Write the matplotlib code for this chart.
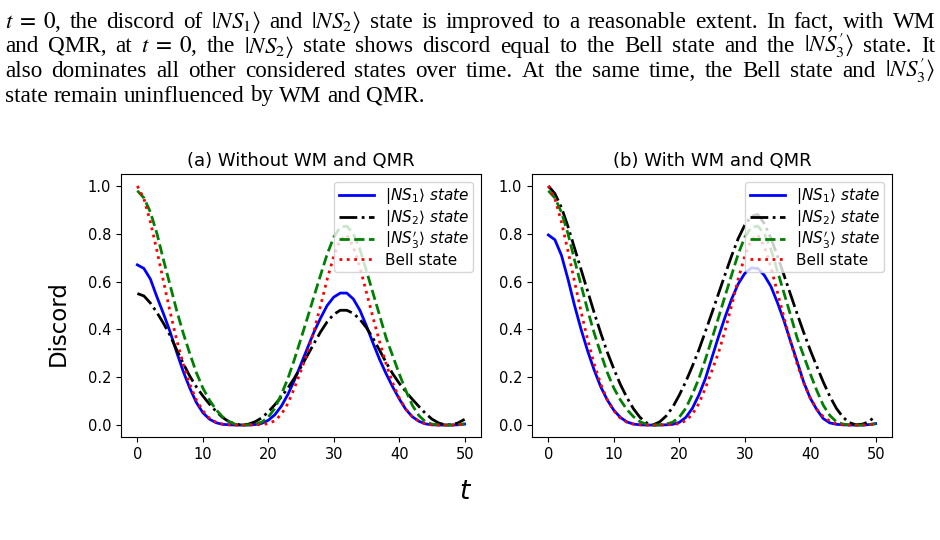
import re
import matplotlib
matplotlib.use("Agg")
import matplotlib.pyplot as plt

# ---------------- data ----------------
t = list(range(0, 51))

bell = [1.000, 0.947, 0.849, 0.728, 0.600, 0.474, 0.357, 0.255, 0.171, 0.106,
        0.060, 0.029, 0.012, 0.004, 0.001, 0.000, 0.000, 0.000, 0.001, 0.002,
        0.006, 0.018, 0.045, 0.090, 0.155, 0.228, 0.303, 0.395, 0.500, 0.610,
        0.705, 0.775, 0.795, 0.745, 0.660, 0.555, 0.450, 0.349, 0.256, 0.177,
        0.114, 0.067, 0.035, 0.016, 0.005, 0.001, 0.000, 0.000, 0.000, 0.001,
        0.004]

ns3p = [0.980, 0.950, 0.890, 0.800, 0.690, 0.585, 0.480, 0.385, 0.300, 0.220,
        0.155, 0.105, 0.065, 0.035, 0.014, 0.003, 0.000, 0.001, 0.004, 0.012,
        0.033, 0.070, 0.128, 0.195, 0.275, 0.362, 0.450, 0.540, 0.628, 0.715,
        0.785, 0.828, 0.832, 0.800, 0.735, 0.645, 0.552, 0.460, 0.365, 0.290,
        0.215, 0.145, 0.083, 0.040, 0.014, 0.004, 0.001, 0.000, 0.000, 0.002,
        0.005]

ns1_a = [0.670, 0.655, 0.610, 0.535, 0.465, 0.390, 0.305, 0.225, 0.155, 0.095,
         0.052, 0.025, 0.010, 0.003, 0.001, 0.000, 0.000, 0.000, 0.002, 0.007,
         0.020, 0.043, 0.079, 0.128, 0.188, 0.255, 0.323, 0.390, 0.448, 0.500,
         0.535, 0.552, 0.552, 0.527, 0.480, 0.415, 0.343, 0.275, 0.215, 0.160,
         0.110, 0.066, 0.035, 0.016, 0.005, 0.001, 0.000, 0.000, 0.000, 0.001,
         0.004]

ns2_a = [0.550, 0.540, 0.510, 0.470, 0.425, 0.375, 0.315, 0.258, 0.205, 0.160,
         0.122, 0.088, 0.058, 0.032, 0.014, 0.004, 0.000, 0.004, 0.014, 0.030,
         0.055, 0.085, 0.118, 0.155, 0.197, 0.243, 0.292, 0.342, 0.390, 0.432,
         0.463, 0.480, 0.480, 0.467, 0.442, 0.407, 0.363, 0.313, 0.262, 0.215,
         0.175, 0.140, 0.108, 0.078, 0.049, 0.025, 0.009, 0.001, 0.001, 0.009,
         0.024]

ns1_b = [0.795, 0.775, 0.710, 0.610, 0.500, 0.400, 0.310, 0.230, 0.160, 0.105,
         0.062, 0.032, 0.013, 0.004, 0.001, 0.000, 0.000, 0.000, 0.001, 0.003,
         0.011, 0.032, 0.070, 0.126, 0.195, 0.283, 0.370, 0.452, 0.527, 0.590,
         0.634, 0.657, 0.655, 0.626, 0.580, 0.512, 0.436, 0.350, 0.266, 0.180,
         0.113, 0.065, 0.027, 0.009, 0.003, 0.001, 0.000, 0.000, 0.000, 0.002,
         0.006]

ns2_b = [1.000, 0.968, 0.910, 0.830, 0.740, 0.650, 0.560, 0.470, 0.385, 0.305,
         0.235, 0.170, 0.115, 0.068, 0.032, 0.009, 0.001, 0.013, 0.038, 0.075,
         0.125, 0.182, 0.246, 0.315, 0.392, 0.470, 0.550, 0.630, 0.708, 0.780,
         0.836, 0.873, 0.881, 0.842, 0.782, 0.707, 0.627, 0.546, 0.466, 0.388,
         0.314, 0.246, 0.180, 0.120, 0.070, 0.033, 0.010, 0.001, 0.004, 0.014,
         0.040]

titles = ["(a) Without WM and QMR", "(b) With WM and QMR"]
labels = [r"$|NS_1\rangle$ $state$", r"$|NS_2\rangle$ $state$",
          r"$|NS_3^{\prime}\rangle$ $state$", "Bell state"]
xticks = [0, 10, 20, 30, 40, 50]
yticks = [0.0, 0.2, 0.4, 0.6, 0.8, 1.0]

para_lines = [
    r"$t\;=\;0$, the discord of $|NS_1\rangle$ and $|NS_2\rangle$ state is improved to a reasonable extent. In fact, with WM",
    r"and QMR, at $t\;=\;0$, the $|NS_2\rangle$ state shows discord equal to the Bell state and the $|NS_3^{\prime}\rangle$ state.  It",
    r"also dominates all other considered states over time.  At the same time, the Bell state and $|NS_3^{\prime}\rangle$",
    r"state remain uninfluenced by WM and QMR.",
]

# ---------------- figure ----------------
W, H = 940, 540
fig = plt.figure(figsize=(W / 100, H / 100), dpi=100)
renderer = fig.canvas.get_renderer()

PFAM = ["Liberation Serif", "DejaVu Serif"]
left_px, right_px = 5, 935
baselines = [28, 52.5, 77, 101.5]
justify = [True, True, True, False]


def toks(line):
    return re.findall(r"\$[^$]*\$\S*|\S+", line)


def width_of(s, fs):
    tt = fig.text(0, 0, s, fontsize=fs, family=PFAM, math_fontfamily="stix")
    w = tt.get_window_extent(renderer).width
    tt.remove()
    return w


def natural(line, fs):
    ws = toks(line)
    sp = width_of("a a", fs) - width_of("aa", fs)
    return sum(width_of(w, fs) for w in ws) + (len(ws) - 1) * sp


# choose the font size so that the widest justified line fits with room to spare
base_fs = 14.0
nat = max(natural(l, base_fs) for l, j in zip(para_lines, justify) if j)
PFS = base_fs * (right_px - left_px) * 0.955 / nat

space_w = width_of("a a", PFS) - width_of("aa", PFS)
for line, base, just in zip(para_lines, baselines, justify):
    words = toks(line)
    ws = [width_of(w, PFS) for w in words]
    if just and len(words) > 1:
        gap = (right_px - left_px - sum(ws)) / (len(words) - 1)
    else:
        gap = space_w
    x = left_px
    for w, wd in zip(words, ws):
        fig.text(x / W, 1 - base / H, w, fontsize=PFS, family=PFAM,
                 math_fontfamily="stix", va="baseline", ha="left")
        x += wd + gap

# axes
ax_a = fig.add_axes([121 / W, 1 - 437 / H, 360 / W, 263 / H])
ax_b = fig.add_axes([532 / W, 1 - 437 / H, 360 / W, 263 / H])

series = [
    (ax_a, ns1_a, ns2_a, ns3p, bell),
    (ax_b, ns1_b, ns2_b, ns3p, bell),
]
for (ax, s1, s2, s3, sb), title in zip(series, titles):
    ax.plot(t, s1, color="blue", lw=2.0, ls="-", label=labels[0])
    ax.plot(t, s2, color="black", lw=2.0, ls="-.", label=labels[1])
    ax.plot(t, s3, color="green", lw=2.0, ls="--", label=labels[2])
    ax.plot(t, sb, color="red", lw=2.0, ls=":", label=labels[3])
    ax.set_xlim(-2.5, 52.5)
    ax.set_ylim(-0.05, 1.05)
    ax.set_xticks(xticks)
    ax.set_yticks(yticks)
    ax.set_yticklabels([f"{v:.1f}" for v in yticks])
    ax.tick_params(labelsize=10.5)
    ax.set_title(title, fontsize=13)
    ax.legend(loc="upper right", fontsize=11, framealpha=0.8,
              labelspacing=0.12, borderpad=0.3, handlelength=2.3,
              handletextpad=0.7)

fig.text(58 / W, 1 - 323 / H, "Discord", rotation=90, ha="center", va="center",
         fontsize=16.5)
fig.text(466 / W, 1 - 492 / H, r"$t$", ha="center", va="center", fontsize=19)

fig.savefig("out.png", dpi=100)
